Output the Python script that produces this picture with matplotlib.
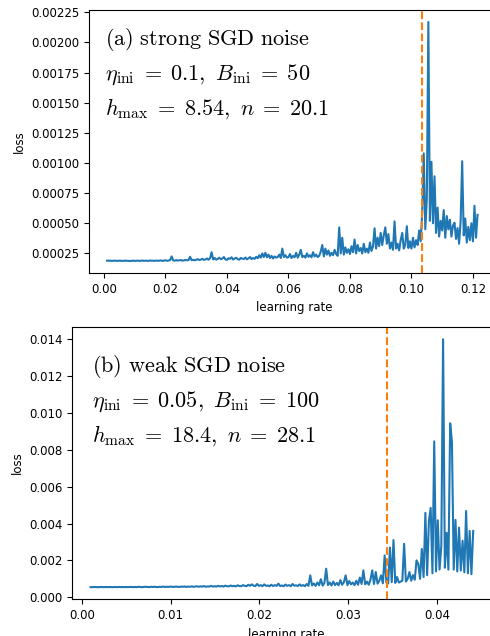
import numpy as np
import matplotlib.pyplot as plt
from matplotlib.ticker import MultipleLocator

plt.rcParams['mathtext.fontset'] = 'cm'

# (a) strong SGD noise -- loss in units of 1e-4
lr_a_start, lr_a_end = 0.001, 0.1215
loss_a = [
    1.90, 1.89, 1.90, 1.88, 1.89, 1.90, 1.89, 1.88, 1.90, 1.89,
    1.88, 1.89, 1.90, 1.89, 1.88, 1.87, 1.89, 1.90, 1.88, 1.89,
    1.90, 1.88, 1.89, 1.91, 1.88, 1.90, 1.89, 1.88, 1.92, 1.89,
    1.90, 1.88, 1.91, 1.89, 1.90, 1.92, 1.88, 1.90, 1.93, 1.89,
    1.91, 1.95, 2.25,
    1.92, 1.90, 1.94, 1.91, 1.93, 1.95, 1.90, 1.92, 1.96, 1.93, 1.95,
    2.22,
    1.94, 1.97, 1.93, 1.98, 2.02, 1.95, 1.99, 2.05, 1.96, 2.00, 2.08, 1.98, 2.10,
    2.60,
    2.00, 2.12, 1.98, 2.05, 2.15, 2.02, 2.08, 2.20, 2.00, 1.97,
    2.10, 2.05, 2.18, 1.99, 2.08, 2.14, 2.02, 1.98, 2.12, 2.06,
    2.04, 2.16, 2.01, 2.09, 2.20, 2.03, 2.12, 2.05, 2.22,
    2.10, 2.35, 2.15, 2.50, 2.20, 2.55, 2.18, 2.40, 2.12, 2.30,
    2.08, 2.25, 2.15, 2.20, 2.40, 2.12, 2.90, 2.20, 2.35, 2.15,
    2.20, 2.45, 2.12, 2.30, 2.18, 2.55, 2.15, 2.40, 2.80, 2.20,
    2.30, 2.15, 2.50, 2.22, 2.35, 2.18, 2.60, 2.25, 2.40, 2.20,
    2.30, 2.65, 3.20, 2.25, 2.90, 2.40, 2.75, 2.30, 2.55, 2.35,
    2.80, 2.45, 2.30, 4.66, 2.50, 3.80, 2.40, 3.00, 2.55, 2.85,
    2.45, 3.10, 2.60, 3.65, 2.50, 3.20, 2.70, 2.95, 2.50, 3.30,
    2.60, 2.90, 2.55, 3.40, 2.70, 3.10, 4.58, 2.90, 3.80, 3.10,
    4.20, 3.20, 4.00, 4.66, 3.30, 4.10, 2.90, 3.40,
    2.80, 5.16, 2.90, 3.30, 2.75, 3.60, 4.20, 2.90, 3.20, 4.75,
    2.95, 3.50, 2.90, 3.80, 3.00, 3.60, 3.20, 4.40, 3.50,
    5.90, 10.80, 4.50, 7.00, 21.70, 5.20, 10.10, 5.00, 8.90,
    4.20, 6.30, 3.90, 5.20, 4.40, 6.10, 3.80, 5.60, 4.50, 5.30,
    3.90, 4.80, 5.05, 3.70, 4.60, 3.30, 5.20, 10.15, 4.00, 5.40,
    3.40, 4.70, 3.60, 5.00, 3.50, 6.45, 3.80, 5.70,
]
lr_crit_a = 0.1033

# (b) weak SGD noise -- loss in units of 1e-3
lr_b_start, lr_b_end = 0.001, 0.0441
loss_b = [
    0.55, 0.55, 0.56, 0.55, 0.55, 0.55, 0.56, 0.55, 0.55, 0.56,
    0.55, 0.56, 0.55, 0.55, 0.56, 0.55, 0.56, 0.55, 0.56, 0.55,
    0.56, 0.55, 0.56, 0.56, 0.55, 0.56, 0.55, 0.57, 0.56, 0.55,
    0.56, 0.57, 0.56, 0.55, 0.57, 0.56, 0.57, 0.56, 0.55, 0.57,
    0.56, 0.58, 0.56, 0.57, 0.56, 0.58, 0.57, 0.56, 0.58, 0.57,
    0.56, 0.58, 0.57, 0.59, 0.56, 0.58, 0.57, 0.59, 0.57, 0.58,
    0.60, 0.57, 0.59, 0.58, 0.61, 0.57, 0.59, 0.58, 0.62, 0.58,
    0.60, 0.58, 0.62, 0.59, 0.61, 0.58, 0.63, 0.60, 0.59, 0.64,
    0.60, 0.62, 0.59, 0.65, 0.61, 0.60, 0.66, 0.62, 0.60, 0.68,
    0.62, 0.70, 0.63, 0.61, 0.72, 0.62, 0.66, 0.60, 0.70, 0.62,
    0.64, 0.60, 0.68, 0.61, 0.66, 0.62, 0.74, 0.61, 0.64, 0.60,
    0.69, 0.62, 0.66, 0.60, 0.72, 0.63, 0.65, 0.61, 0.70, 0.62,
    0.66, 0.60, 0.72, 0.62, 1.19, 0.64, 0.75, 0.62, 0.80, 0.65,
    0.98, 0.63, 0.78, 1.55, 0.66, 0.80, 0.64, 0.85, 0.66, 0.78,
    0.65, 0.93, 0.68, 0.82, 1.19, 0.66, 0.88, 0.70, 0.80, 0.66,
    0.90, 0.68, 1.07, 0.72, 1.46, 0.70, 0.85, 0.68, 0.95, 1.46,
    0.72, 1.37, 0.74, 0.90, 1.19, 0.76,
    2.27, 0.80, 0.75, 2.70, 0.82, 3.10, 0.78, 1.10, 0.80, 0.85,
    0.90, 2.90, 0.85, 1.00, 1.37, 0.90, 1.20, 0.95, 2.00, 1.80,
    1.00, 2.62, 1.10, 4.58, 1.20, 4.15, 4.85, 1.30, 8.46, 1.40,
    4.18, 1.50, 2.80, 14.00, 1.60, 3.50, 1.50, 9.44, 8.43, 1.50,
    4.20, 1.40, 3.78, 1.45, 3.07, 1.35, 4.68, 1.30, 3.60, 1.25,
    3.60,
]
lr_crit_b = 0.03437

lr_a = np.linspace(lr_a_start, lr_a_end, len(loss_a))
lr_b = np.linspace(lr_b_start, lr_b_end, len(loss_b))
loss_a = np.array(loss_a) * 1e-4
loss_b = np.array(loss_b) * 1e-3

fig = plt.figure(figsize=(4.9, 6.36), dpi=100)
# right edges of both panels fall just outside the figure (cropped look)
ax1 = fig.add_axes([0.1816, 0.5708, 0.8388, 0.4135])
ax2 = fig.add_axes([0.1476, 0.0577, 0.873, 0.4286])

fs = 8.5
tfs = 16

# top panel
ax1.plot(lr_a, loss_a, color='#1f77b4', lw=1.5)
ax1.axvline(lr_crit_a, color='#ff7f0e', ls='--', lw=1.5)
ax1.set_xlim(-0.00488, 0.1288)
ax1.yaxis.set_major_locator(MultipleLocator(0.00025))
ax1.xaxis.set_major_locator(MultipleLocator(0.02))
ax1.set_xlabel('learning rate', fontsize=fs)
ax1.set_ylabel('loss', fontsize=fs)
ax1.tick_params(labelsize=fs)
ax1.spines['right'].set_visible(False)
ax1.text(0.04, 0.867, r'$\mathrm{(a)\ strong\ SGD\ noise}$', transform=ax1.transAxes,
         fontsize=tfs, va='baseline')
ax1.text(0.04, 0.734, r'$\eta_{\rm ini}\;=\;0.1,\ B_{\rm ini}\;=\;50$',
         transform=ax1.transAxes, fontsize=tfs, va='baseline')
ax1.text(0.04, 0.601, r'$h_{\rm max}\;=\;8.54,\ n\;=\;20.1$',
         transform=ax1.transAxes, fontsize=tfs, va='baseline')

# bottom panel
ax2.plot(lr_b, loss_b, color='#1f77b4', lw=1.5)
ax2.axvline(lr_crit_b, color='#ff7f0e', ls='--', lw=1.5)
ax2.set_ylim(-0.00011, 0.01468)
ax2.set_xlim(-0.00106, 0.04713)
ax2.yaxis.set_major_locator(MultipleLocator(0.002))
ax2.xaxis.set_major_locator(MultipleLocator(0.01))
ax2.set_xlabel('learning rate', fontsize=fs)
ax2.set_ylabel('loss', fontsize=fs)
ax2.tick_params(labelsize=fs)
ax2.spines['right'].set_visible(False)
ax2.text(0.046, 0.835, r'$\mathrm{(b)\ weak\ SGD\ noise}$', transform=ax2.transAxes,
         fontsize=tfs, va='baseline')
ax2.text(0.046, 0.7065, r'$\eta_{\rm ini}\;=\;0.05,\ B_{\rm ini}\;=\;100$',
         transform=ax2.transAxes, fontsize=tfs, va='baseline')
ax2.text(0.046, 0.578, r'$h_{\rm max}\;=\;18.4,\ n\;=\;28.1$',
         transform=ax2.transAxes, fontsize=tfs, va='baseline')

fig.savefig('out.png', dpi=100)
